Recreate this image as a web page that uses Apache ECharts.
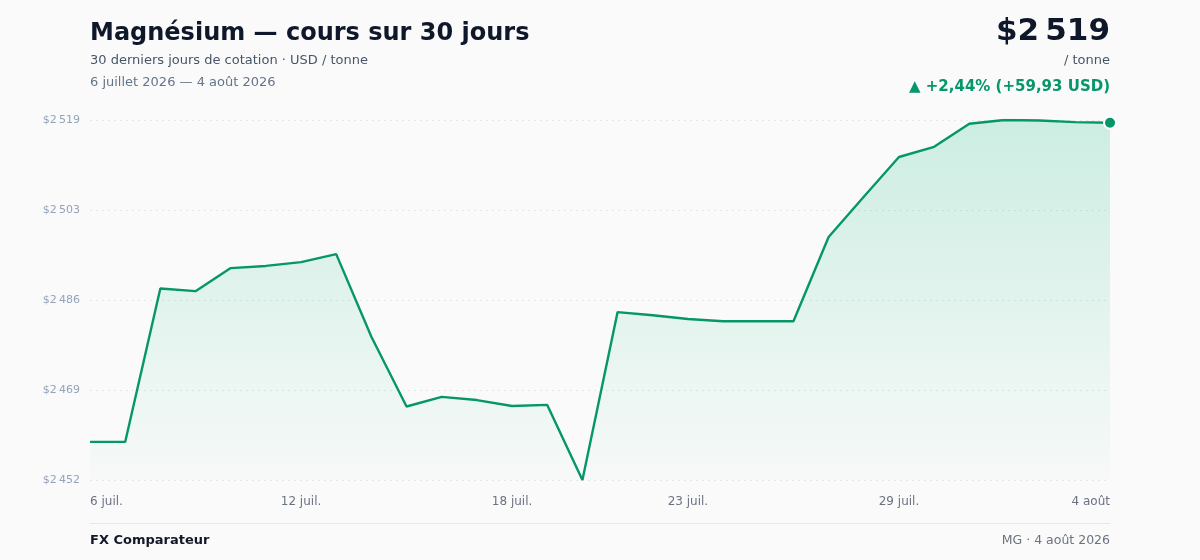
<!DOCTYPE html>
<html>
<head>
<meta charset="utf-8">
<script src="https://cdn.jsdelivr.net/npm/echarts@6/dist/echarts.min.js"></script>
<style>
html,body{margin:0;padding:0;background:#fafafa;}
#chart{width:1200px;height:560px;}
</style>
</head>
<body>
<div id="chart"></div>
<script>
const dates = ['6 juil.','7 juil.','8 juil.','9 juil.','10 juil.','11 juil.','12 juil.','13 juil.','14 juil.','15 juil.',
  '16 juil.','17 juil.','18 juil.','19 juil.','20 juil.','21 juil.','22 juil.','23 juil.','24 juil.','25 juil.',
  '26 juil.','27 juil.','28 juil.','29 juil.','30 juil.','31 juil.','1 août','2 août','3 août','4 août'];
const prices = [2459.4,2459.4,2488.0,2487.5,2491.8,2492.2,2492.9,2494.4,2479.0,2466.0,
  2467.8,2467.2,2466.1,2466.3,2452.3,2483.6,2483.0,2482.3,2481.9,2481.9,
  2481.9,2497.6,2505.1,2512.5,2514.4,2518.7,2519.4,2519.3,2519.0,2518.9];
const shownLabels = [0,6,12,17,23,29];
const titleText = 'Magnésium — cours sur 30 jours';
const subtitleText = '30 derniers jours de cotation · USD / tonne';
const rangeText = '6 juillet 2026 — 4 août 2026';
const priceText = '$2\u202f519';
const unitText = '/ tonne';
const changeText = '▲ +2,44% (+59,93 USD)';
const brandText = 'FX Comparateur';
const footText = 'MG · 4 août 2026';

const yMin = Math.min(...prices);
const yMax = Math.max(...prices);
const last = prices.length - 1;
const FONT = 'DejaVu Sans';
const green = '#059669';

function fmt(v){
  const n = Math.round(v);
  const s = String(n);
  return '$' + s.slice(0, s.length-3) + '\u202f' + s.slice(-3);
}
function txt(text, size, weight, color, align){
  return {text: text, fontFamily: FONT, fontSize: size, fontWeight: weight, fill: color,
          align: align || 'left', verticalAlign: 'middle'};
}

const chart = echarts.init(document.getElementById('chart'), null, {renderer:'canvas'});
chart.setOption({
  backgroundColor: '#fafafa',
  animation: false,
  textStyle: {fontFamily: FONT},
  grid: {left: 90, right: 90, top: 120, bottom: 80, containLabel: false},
  xAxis: {
    type: 'category',
    data: dates,
    boundaryGap: false,
    axisLine: {show: false},
    axisTick: {show: false},
    splitLine: {show: false},
    axisLabel: {
      interval: (i) => shownLabels.includes(i),
      color: '#6b7280',
      fontFamily: FONT,
      fontSize: 12,
      margin: 16,
      alignMinLabel: 'left',
      alignMaxLabel: 'right'
    }
  },
  yAxis: {
    type: 'value',
    min: yMin,
    max: yMax,
    interval: (yMax - yMin) / 4,
    axisLine: {show: false},
    axisTick: {show: false},
    axisLabel: {
      formatter: fmt,
      color: '#94a3b8',
      fontFamily: FONT,
      fontSize: 11,
      margin: 10
    },
    splitLine: {lineStyle: {color: '#e5e7eb', type: [2, 4], width: 1}}
  },
  series: [{
    type: 'line',
    data: prices,
    showSymbol: true,
    showAllSymbol: true,
    symbol: 'circle',
    symbolSize: (v, p) => p.dataIndex === last ? 12 : 0,
    itemStyle: {color: green, borderColor: '#ffffff', borderWidth: 2},
    lineStyle: {color: green, width: 2.4},
    areaStyle: {
      color: new echarts.graphic.LinearGradient(0, 0, 0, 1, [
        {offset: 0, color: 'rgba(16,185,129,0.28)'},
        {offset: 1, color: 'rgba(16,185,129,0.02)'}
      ])
    },
    z: 3
  }],
  graphic: [
    {type:'text', x: 90, y: 34, style: txt(titleText, 24, 'bold', '#0f172a')},
    {type:'text', x: 90, y: 61, style: txt(subtitleText, 13, 'normal', '#475569')},
    {type:'text', x: 90, y: 83, style: txt(rangeText, 13, 'normal', '#64748b')},
    {type:'text', x: 1110, y: 32, style: txt(priceText, 31, 'bold', '#0f172a', 'right')},
    {type:'text', x: 1110, y: 61, style: txt(unitText, 13, 'normal', '#475569', 'right')},
    {type:'text', x: 1110, y: 87, style: txt(changeText, 15, 'bold', green, 'right')},
    {type:'rect', shape:{x:90, y:523, width:1020, height:1}, style:{fill:'#e5e7eb'}},
    {type:'text', x: 90, y: 541, style: txt(brandText, 13, 'bold', '#111827')},
    {type:'text', x: 1110, y: 541, style: txt(footText, 12.5, 'normal', '#6b7280', 'right')}
  ]
});
</script>
</body>
</html>
